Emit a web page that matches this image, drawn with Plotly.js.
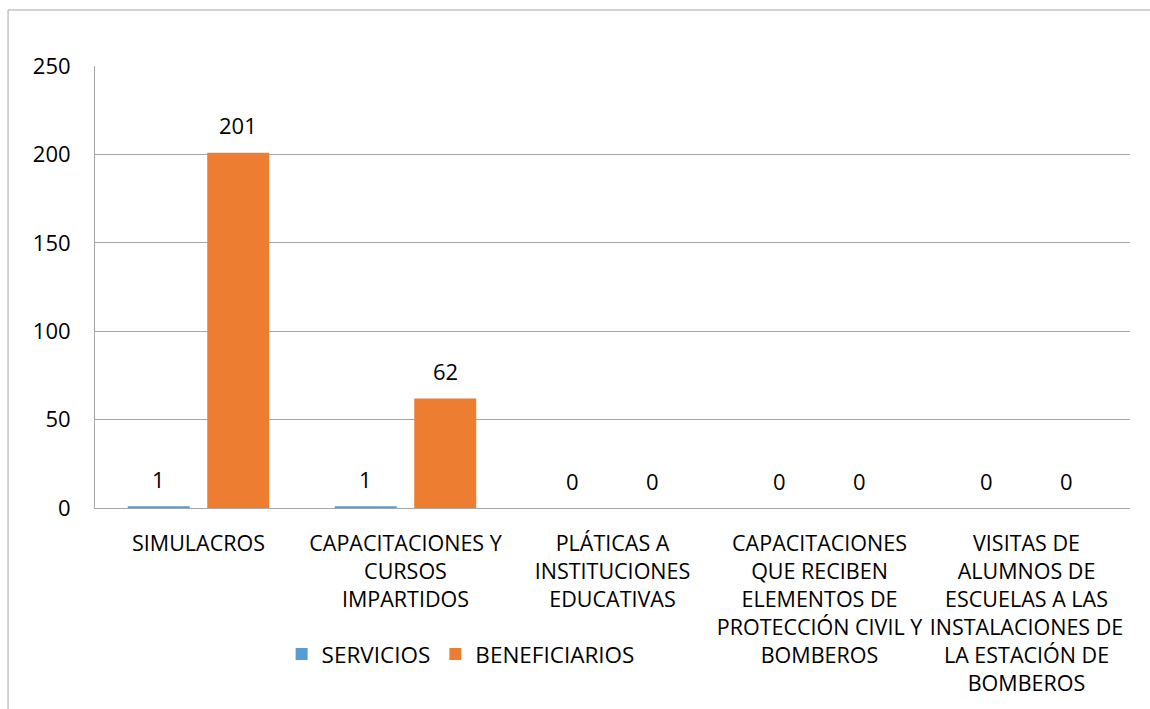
<!DOCTYPE html>
<html>
<head>
<meta charset="utf-8">
<script src="https://cdn.plot.ly/plotly-3.0.1.min.js"></script>
<style>html,body{margin:0;padding:0;background:#fff;}#chart{width:1150px;height:709px;}</style>
</head>
<body>
<div id="chart"></div>
<script>
const categories = [
  "SIMULACROS",
  "CAPACITACIONES Y<br>CURSOS<br>IMPARTIDOS",
  "PLÁTICAS A<br>INSTITUCIONES<br>EDUCATIVAS",
  "CAPACITACIONES<br>QUE RECIBEN<br>ELEMENTOS DE<br>PROTECCIÓN CIVIL Y<br>BOMBEROS",
  "VISITAS DE<br>ALUMNOS DE<br>ESCUELAS A LAS<br>INSTALACIONES DE<br>LA ESTACIÓN DE<br>BOMBEROS"
];
const servicios = [1, 1, 0, 0, 0];
const beneficiarios = [201, 62, 0, 0, 0];
const seriesNames = ["SERVICIOS", "BENEFICIARIOS"];
const seriesColors = ["#5B9BD5", "#ED7D31"];
const yTicks = [0, 50, 100, 150, 200, 250];

const fontFam = "'Open Sans', sans-serif";
const seriesVals = [servicios, beneficiarios];
const data = seriesVals.map((vals, i) => ({
  type: "bar", name: seriesNames[i], x: categories, y: vals,
  marker: {color: seriesColors[i]}
}));

// value labels placed at each bar through the axes
const slotShift = 39.75;
const annotations = [];
seriesVals.forEach((vals, i) => {
  vals.forEach((v, j) => {
    annotations.push({
      x: categories[j], y: v, xref: "x", yref: "y",
      text: String(v), showarrow: false,
      xshift: (i === 0 ? -1 : 1) * slotShift, yshift: 27.5, yanchor: "middle",
      font: {family: fontFam, size: 22, color: "#000"}
    });
  });
});

const layout = {
  width: 1150, height: 709,
  margin: {l: 95, r: 20, t: 66, b: 201},
  paper_bgcolor: "#fff", plot_bgcolor: "#fff",
  font: {family: fontFam, size: 21, color: "#000"},
  bargap: 0.232, bargroupgap: 0.22,
  showlegend: true,
  legend: {orientation: "h", x: 0.1803, y: -0.331, xanchor: "left", yanchor: "middle",
           font: {family: fontFam, size: 22.5, color: "#000"}, traceorder: "normal"},
  xaxis: {showline: true, linecolor: "#a6a6a6", linewidth: 1, ticks: "", showgrid: false,
          tickfont: {family: fontFam, size: 21.5}, ticklabelstandoff: 16, automargin: false},
  yaxis: {range: [0, 250], tickvals: yTicks, showline: true, linecolor: "#a6a6a6", linewidth: 1,
          gridcolor: "#a6a6a6", gridwidth: 1, zeroline: false, ticks: "", ticklabelstandoff: 19,
          tickfont: {family: fontFam, size: 22}, automargin: false},
  annotations: annotations,
  shapes: [
    {type: "line", xref: "paper", yref: "paper", x0: -0.084, x1: 1.1, y0: 1.1267, y1: 1.1267,
     line: {color: "#a6a6a6", width: 1}},
    {type: "line", xref: "paper", yref: "paper", x0: -0.084, x1: -0.084, y0: 1.1267, y1: -0.46,
     line: {color: "#a6a6a6", width: 1}}
  ]
};
Plotly.newPlot("chart", data, layout, {displayModeBar: false, staticPlot: true});
</script>
</body>
</html>
